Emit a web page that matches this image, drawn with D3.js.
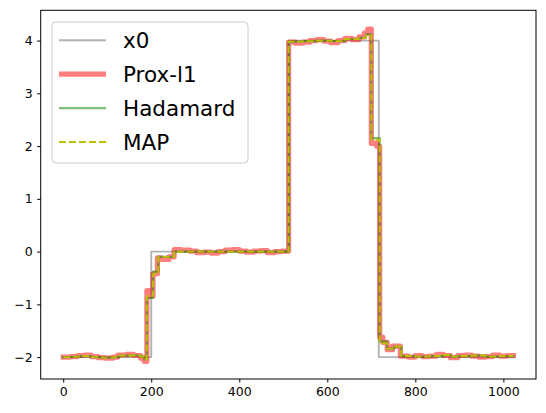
<!DOCTYPE html>
<meta charset="utf-8">
<style>
    body { margin: 0; background: #fff; }
    svg { display: block; font-family: "DejaVu Sans", sans-serif; }
</style>
<body>
<script src="https://d3js.org/d3.v7.min.js"></script>
<script>
    var width = 546,
        height = 413;

    // signal length (indices 0..1023)
    var n = 1024;

    // step signals: [start index, value] held until the next start
    var x0Steps = [[0, -2], [200, 0], [512, 4], [717, -2]];

    var proxSteps = [
        [0, -2.0], [16, -1.99], [32, -1.97], [48, -1.96], [64, -1.99], [80, -2.01],
        [96, -2.02], [112, -2.0], [124, -1.96], [144, -1.95], [160, -1.97], [176, -2.02],
        [184, -2.08], [190, -0.74], [197, -0.84], [204, -0.42], [214, -0.12], [224, -0.15],
        [240, -0.1], [252, 0.04], [268, 0.03], [288, 0.01], [304, -0.02], [320, -0.01],
        [336, -0.03], [352, 0.0], [368, 0.03], [384, 0.04], [400, 0.01], [416, -0.01],
        [432, 0.01], [448, 0.02], [464, -0.02], [480, 0.0], [496, 0.01], [512, 3.97],
        [528, 3.95], [544, 3.97], [560, 4.0], [576, 4.02], [592, 3.99], [608, 3.96],
        [624, 4.0], [640, 4.04], [656, 4.02], [672, 4.07], [684, 4.14], [692, 4.22],
        [700, 2.05], [712, 2.0], [719, -1.62], [726, -1.72], [736, -1.86], [748, -1.79],
        [766, -1.98], [784, -2.0], [800, -1.97], [816, -1.99], [832, -1.98], [848, -1.95],
        [864, -1.97], [880, -2.01], [896, -1.97], [912, -1.96], [928, -1.98], [944, -2.0],
        [960, -1.99], [976, -1.96], [992, -1.98], [1008, -1.97]
    ];

    var hadamardSteps = [
        [0, -2.0], [24, -1.99], [40, -1.98], [64, -2.0], [88, -2.01], [112, -2.0],
        [128, -1.97], [176, -1.99], [184, -2.04], [190, -0.88], [204, -0.38], [216, -0.1],
        [252, 0.0], [512, 3.98], [544, 3.99], [576, 4.0], [608, 3.99], [640, 4.03],
        [672, 4.05], [688, 4.12], [700, 2.15], [719, -1.7], [736, -1.84], [752, -1.8],
        [768, -1.98], [800, -1.99], [832, -1.98], [864, -1.96], [880, -1.99], [896, -1.98],
        [928, -1.97], [960, -1.99], [992, -1.98]
    ];

    var mapSteps = [
        [0, -2.0], [24, -1.99], [40, -1.98], [64, -2.0], [88, -2.01], [112, -2.0],
        [128, -1.97], [176, -1.99], [184, -2.04], [190, -0.84], [204, -0.42], [216, -0.1],
        [252, 0.0], [512, 3.98], [544, 3.99], [576, 4.0], [608, 3.99], [640, 4.03],
        [672, 4.05], [688, 4.1], [700, 2.12], [719, -1.74], [736, -1.84], [752, -1.8],
        [768, -1.98], [800, -1.99], [832, -1.98], [864, -1.96], [880, -1.99], [896, -1.98],
        [928, -1.97], [960, -1.99], [992, -1.98]
    ];

    var xTicks = [0, 200, 400, 600, 800, 1000],
        yTicks = [-2, -1, 0, 1, 2, 3, 4];

    var legendLabels = ['x0', 'Prox-l1', 'Hadamard', 'MAP'];

    // axes box in pixels
    var plot = {left: 40.7, right: 536, top: 10.3, bottom: 379};

    var x = d3.scaleLinear()
        .domain([-0.05 * (n - 1), 1.05 * (n - 1)])
        .range([plot.left, plot.right]);

    var y = d3.scaleLinear()
        .domain([-2.415, 4.574])
        .range([plot.bottom, plot.top]);

    // turn [start, value] steps into points ending at the last index
    function toPoints(steps) {
        var pts = steps.map(s => ({i: s[0], v: s[1]}));
        pts.push({i: n - 1, v: steps[steps.length - 1][1]});
        return pts;
    }

    var line = d3.line()
        .x(d => x(d.i))
        .y(d => y(d.v))
        .curve(d3.curveStepAfter);

    var svg = d3.select('body')
        .append('svg')
        .attr('width', width)
        .attr('height', height);

    svg.append('rect')
        .attr('width', width)
        .attr('height', height)
        .attr('fill', '#fff');

    var series = [
        {steps: x0Steps, stroke: '#000', opacity: 0.3, width: 1.9, dash: null},
        {steps: proxSteps, stroke: '#ff0000', opacity: 0.5, width: 5.2, dash: null},
        {steps: hadamardSteps, stroke: '#008000', opacity: 0.5, width: 2.2, dash: null},
        {steps: mapSteps, stroke: '#bfbf00', opacity: 1, width: 1.9, dash: '7,3'}
    ];

    var clip = svg.append('clipPath')
        .attr('id', 'clip')
        .append('rect')
        .attr('x', plot.left)
        .attr('y', plot.top)
        .attr('width', plot.right - plot.left)
        .attr('height', plot.bottom - plot.top);

    var lines = svg.append('g')
        .attr('clip-path', 'url(#clip)');

    series.forEach(s => {
        lines.append('path')
            .datum(toPoints(s.steps))
            .attr('d', line)
            .attr('fill', 'none')
            .attr('stroke', s.stroke)
            .attr('stroke-opacity', s.opacity)
            .attr('stroke-width', s.width)
            .attr('stroke-dasharray', s.dash)
            .attr('stroke-linejoin', 'round')
            .attr('stroke-linecap', s.dash ? 'butt' : 'square');
    });

    // axes
    var xAxis = d3.axisBottom(x)
        .tickValues(xTicks)
        .tickSize(3.5)
        .tickPadding(4.5)
        .tickFormat(d3.format('d'));

    var yAxis = d3.axisLeft(y)
        .tickValues(yTicks)
        .tickSize(3.5)
        .tickPadding(4.5)
        .tickFormat(d => d < 0 ? '\u2212' + Math.abs(d) : d);

    svg.append('g')
        .attr('transform', `translate(0,${plot.bottom})`)
        .call(xAxis)
        .call(g => g.select('.domain').remove());

    svg.append('g')
        .attr('transform', `translate(${plot.left},0)`)
        .call(yAxis)
        .call(g => g.select('.domain').remove());

    svg.selectAll('.tick text')
        .attr('font-family', '"DejaVu Sans", sans-serif')
        .attr('font-size', 12.5)
        .attr('fill', '#000');

    svg.selectAll('.tick line')
        .attr('stroke', '#000')
        .attr('stroke-width', 1);

    // frame
    svg.append('rect')
        .attr('x', plot.left)
        .attr('y', plot.top)
        .attr('width', plot.right - plot.left)
        .attr('height', plot.bottom - plot.top)
        .attr('fill', 'none')
        .attr('stroke', '#000')
        .attr('stroke-width', 1);

    // legend
    var legend = svg.append('g');

    legend.append('rect')
        .attr('x', 52)
        .attr('y', 22)
        .attr('width', 196)
        .attr('height', 141)
        .attr('rx', 4)
        .attr('fill', '#fff')
        .attr('fill-opacity', 0.8)
        .attr('stroke', '#cccccc')
        .attr('stroke-width', 1);

    var rowY = d3.scalePoint()
        .domain(legendLabels)
        .range([40.3, 142]);

    legendLabels.forEach((label, i) => {
        var s = series[i];
        legend.append('line')
            .attr('x1', 59)
            .attr('x2', 106)
            .attr('y1', rowY(label))
            .attr('y2', rowY(label))
            .attr('stroke', s.stroke)
            .attr('stroke-opacity', s.opacity)
            .attr('stroke-width', s.width)
            .attr('stroke-dasharray', s.dash);
        legend.append('text')
            .attr('x', 123)
            .attr('y', rowY(label))
            .attr('dy', '0.36em')
            .attr('font-size', 21.5)
            .attr('fill', '#000')
            .text(label);
    });
</script>
</body>
</html>
